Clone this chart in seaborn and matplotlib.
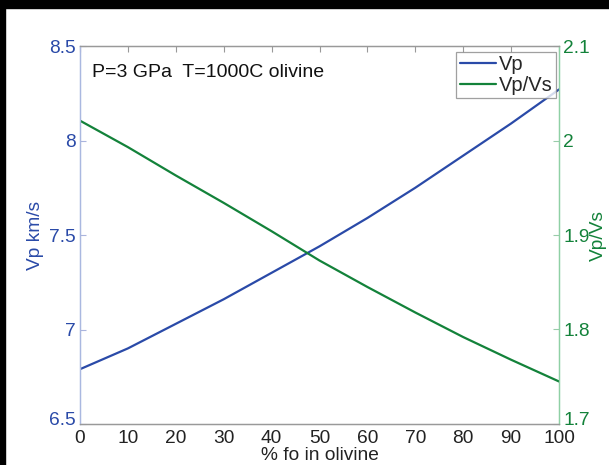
import matplotlib
matplotlib.use("Agg")
import matplotlib.pyplot as plt
import matplotlib.transforms as mtransforms
import seaborn as sns
import pandas as pd
from matplotlib.patches import Rectangle

sns.set_style("white")
plt.rcParams['font.family'] = ['Liberation Sans', 'DejaVu Sans']

fo = [0, 10, 20, 30, 40, 50, 60, 70, 80, 90, 100]
vp = [6.79, 6.90, 7.03, 7.16, 7.30, 7.44, 7.59, 7.75, 7.92, 8.09, 8.27]
vpvs = [2.021, 1.993, 1.963, 1.934, 1.904, 1.873, 1.845, 1.818, 1.792, 1.768, 1.745]
xticks = [0, 10, 20, 30, 40, 50, 60, 70, 80, 90, 100]
yticks_left = [6.5, 7, 7.5, 8, 8.5]
yticks_right = [1.7, 1.8, 1.9, 2.0, 2.1]

blue = "#2a4aa8"
green = "#13823a"

df = pd.DataFrame({"fo": fo, "vp": vp, "vpvs": vpvs})

fig = plt.figure(figsize=(6.09, 4.65), dpi=100)
W, H = 609, 465
# black frame bands
fig.patches.append(Rectangle((0, 1 - 8 / H), 1, 8 / H, transform=fig.transFigure, color="black", zorder=-10))
fig.patches.append(Rectangle((0, 0), 5 / W, 1, transform=fig.transFigure, color="black", zorder=-10))

ax = fig.add_axes([80 / W, 1 - 424 / H, (559 - 80) / W, (424 - 46) / H])
ax2 = ax.twinx()

sns.lineplot(data=df, x="fo", y="vp", ax=ax, color=blue, lw=1.6, label="Vp", legend=False)
sns.lineplot(data=df, x="fo", y="vpvs", ax=ax2, color=green, lw=1.6, label="Vp/Vs", legend=False)

ax.set_xlim(0, 100)
ax.set_ylim(6.5, 8.5)
ax2.set_ylim(1.7, 2.1)
ax.set_xticks(xticks)
ax.set_xticklabels([str(t) for t in xticks])
ax.set_yticks(yticks_left)
ax.set_yticklabels(["6.5", "7", "7.5", "8", "8.5"])
ax2.set_yticks(yticks_right)
ax2.set_yticklabels(["1.7", "1.8", "1.9", "2", "2.1"])

fs = 13.8
ax.tick_params(axis="x", direction="in", length=4, width=0.8, color="#999999", labelsize=fs,
               labelcolor="#222222", top=True, pad=4)
ax.tick_params(axis="y", direction="in", length=4, width=0.8, color="#aab4dd", labelsize=fs,
               labelcolor=blue, pad=3)
ax2.tick_params(axis="y", direction="in", length=4, width=0.8, color="#99ccaa", labelsize=fs,
                labelcolor=green, pad=3)

# lift the lowest y tick labels (as in the reference) so they clear the x labels
lift = mtransforms.ScaledTranslation(0, 6 / 100, fig.dpi_scale_trans)
for lab in (ax.get_yticklabels()[0], ax2.get_yticklabels()[0]):
    lab.set_transform(lab.get_transform() + lift)

ax.set_xlabel("% fo in olivine", fontsize=13.8, color="#222222", labelpad=0)
ax.set_ylabel("Vp km/s", fontsize=fs, color=blue, labelpad=4)
ax2.set_ylabel("Vp/Vs", fontsize=fs, color=green, labelpad=0)

for a in (ax, ax2):
    a.spines["top"].set_color("#999999")
    a.spines["bottom"].set_color("#999999")
    a.spines["left"].set_color("#aab8e0")
    a.spines["right"].set_color("#8fd0a5")
    for s in a.spines.values():
        s.set_linewidth(0.9)

ax.text(0.025, 0.952, "P=3 GPa  T=1000C olivine", transform=ax.transAxes, fontsize=14,
        ha="left", va="top", color="#111111")

h1, l1 = ax.get_legend_handles_labels()
h2, l2 = ax2.get_legend_handles_labels()
leg = ax2.legend(h1 + h2, l1 + l2, loc="upper right", bbox_to_anchor=(0.997, 0.99), fontsize=14.5,
                 frameon=True, fancybox=False, edgecolor="#888888", borderpad=0.15,
                 handlelength=1.8, handletextpad=0.15, labelspacing=0.1, borderaxespad=0.1)
leg.get_frame().set_linewidth(0.9)

fig.savefig("out.png", dpi=100, facecolor="white")
